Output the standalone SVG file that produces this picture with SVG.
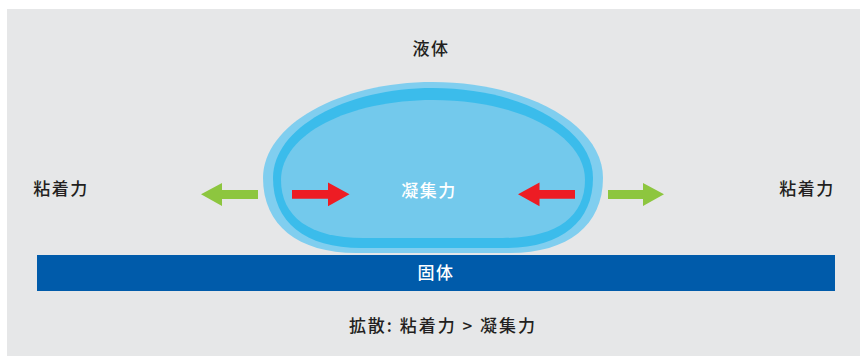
<svg xmlns="http://www.w3.org/2000/svg" width="860" height="356" viewBox="0 0 860 356">
  <style>
    .lbl { font-family: "Noto Sans CJK JP", "Noto Sans", sans-serif; font-size: 17px; font-weight: 500; fill: #231F20; text-anchor: middle; letter-spacing: 1.5px; }
    .inv { fill: #FFFFFF; }
    .adh { fill: #8DC63F; }
    .coh { fill: #ED1C24; }
  </style>
  <rect x="7" y="9" width="853" height="347" fill="#E6E7E8"/>

  <!-- liquid droplet -->
  <g id="droplet">
    <path fill="#80CEEF" d="M263,178 C263,125 339,82 433,82 C527,82 603,125 603,178 C603,225 568,253 510,253 L356,253 C298,253 263,225 263,178 Z"/>
    <path fill="#3BBCEB" d="M273,178 C273,128 345,88 433,88 C521,88 593,128 593,178 C593,222 561,248 505,248 L361,248 C305,248 273,222 273,178 Z"/>
    <path fill="#73C9EC" d="M281,180 C281,134 349,100 433,100 C517,100 585,134 585,180 C585,217 556,238 503,238 L363,238 C310,238 281,217 281,180 Z"/>
  </g>

  <!-- solid substrate -->
  <g id="solid">
    <rect x="37" y="255" width="798" height="36" fill="#005BAA"/>
    <text class="lbl inv" x="436" y="279">固体</text>
  </g>

  <g id="liquid-label">
    <text class="lbl" x="431" y="55">液体</text>
  </g>

  <g id="cohesion">
    <text class="lbl inv" x="429" y="197">凝集力</text>
  </g>

  <g id="adhesion-left">
    <text class="lbl" x="61" y="195">粘着力</text>
  </g>
  <g id="adhesion-right">
    <text class="lbl" x="807" y="195">粘着力</text>
  </g>

  <g id="caption">
    <text class="lbl" x="443" y="332" style="letter-spacing:2px">拡散: 粘着力 &gt; 凝集力</text>
  </g>

  <!-- force arrows -->
  <g id="arrows">
    <polygon class="adh" points="258,190 222,190 222,183 201,194.3 222,206 222,199 258,199"/>
    <polygon class="adh" points="608,190 643,190 643,183 664,194.3 643,206 643,199 608,199"/>
    <polygon class="coh" points="292,190 328,190 328,182.5 349.5,194.3 328,206.3 328,198.7 292,198.7"/>
    <polygon class="coh" points="575,190 539.5,190 539.5,182.5 518,194.3 539.5,206.3 539.5,198.7 575,198.7"/>
  </g>
</svg>
